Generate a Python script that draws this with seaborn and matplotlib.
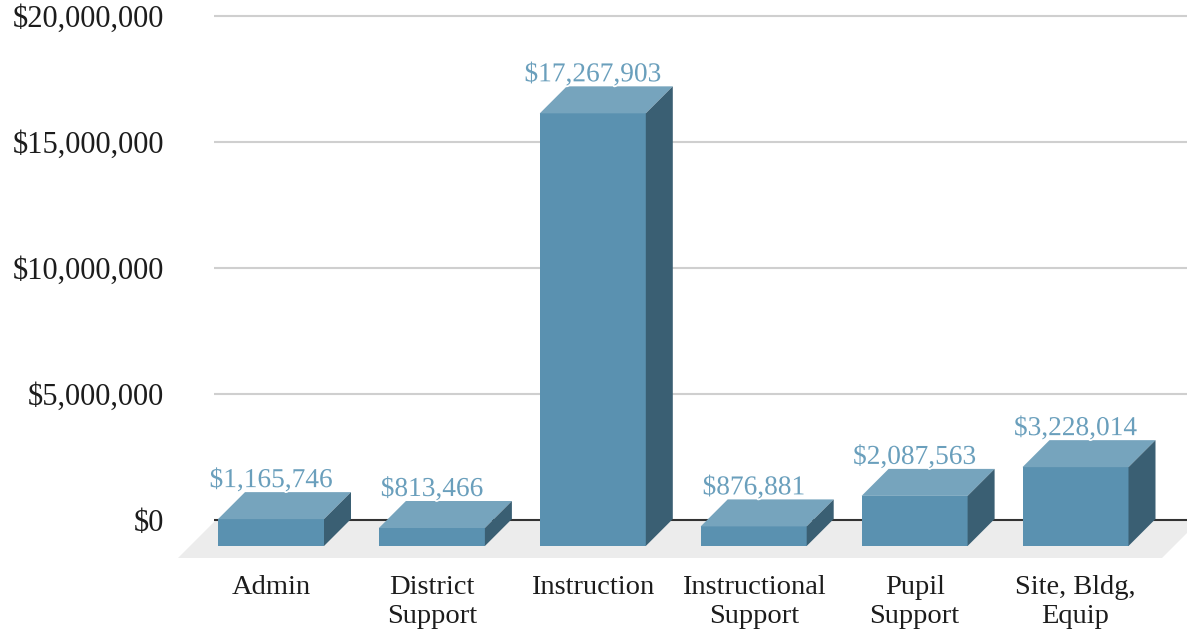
import matplotlib
matplotlib.use('Agg')
import matplotlib.pyplot as plt
import matplotlib.patheffects as pe
import seaborn as sns
import numpy as np

categories = ['Admin', 'District\nSupport', 'Instruction', 'Instructional\nSupport', 'Pupil\nSupport', 'Site, Bldg,\nEquip']
values = np.array([1165746, 813466, 17267903, 876881, 2087563, 3228014])
yticks = [0, 5000000, 10000000, 15000000, 20000000]

FRONT = '#5A91B0'
TOP = '#76A4BD'
SIDE = '#3A5F73'
LABEL = '#6A9FBC'
TEXT = '#1c1c1c'

W, H = 1187, 630
px = 5000000 / 126           # one pixel in dollars
step = 160.9                 # pixels between categories
x0 = (214 - 271) / step
x1 = (W - 271) / step
depth = 27
drop = 26 * px               # front of bars hangs below the zero line
trim = 2.5 * px

sns.set_theme(style='white')
plt.rcParams['font.family'] = ['Liberation Serif', 'DejaVu Serif']

fig = plt.figure(figsize=(W / 100, H / 100), dpi=100)
ax = fig.add_axes([214 / W, 1 - 558 / H, 1 - 214 / W, 558 / H])

sns.barplot(x=categories, y=values - trim, bottom=-drop, width=106 / step,
            color=FRONT, saturation=1, ax=ax, zorder=5, linewidth=0)

ax.set_xlim(x0, x1)
ax.set_ylim(-38 * px, 20000000 + 16 * px)

# floor and grid
dx = depth / step
ax.fill([(178 - 271) / step, (216 - 271) / step, (1200 - 271) / step, (1162 - 271) / step],
        [-38 * px, 0, 0, -38 * px], color='#ECECEC', lw=0, zorder=2, clip_on=False)
for t in yticks[1:]:
    ax.axhline(t, color='#CFCFCF', lw=1.5, zorder=1)
ax.axhline(0, color='#333333', lw=1.5, zorder=3)

# 3d faces + labels
for bar, val in zip(ax.patches, values):
    l = bar.get_x()
    r = l + bar.get_width()
    t = bar.get_y() + bar.get_height()
    b = bar.get_y()
    dy = depth * px
    ax.fill([l, l + dx, r + dx, r], [t, t + dy, t + dy, t], color=TOP, lw=0, zorder=5)
    ax.fill([r, r + dx, r + dx, r], [b, b + dy, t + dy, t], color=SIDE, lw=0, zorder=5)
    ax.text((l + r) / 2, t + dy + 5 * px, f'${val:,.0f}', ha='center', va='baseline',
            fontsize=19.7, color=LABEL, zorder=6,
            path_effects=[pe.withStroke(linewidth=2.5, foreground='white')])

ax.set_yticks(yticks)
ax.set_yticklabels([f'${t:,.0f}' for t in yticks], fontsize=22, color=TEXT)
ax.tick_params(axis='y', length=0, pad=36)
ax.tick_params(axis='x', length=0, pad=12, labelsize=20.5, labelcolor=TEXT)
for lab in ax.get_xticklabels():
    lab.set_linespacing(1.25)
sns.despine(ax=ax, left=True, bottom=True)

fig.savefig('out.png', dpi=100)
